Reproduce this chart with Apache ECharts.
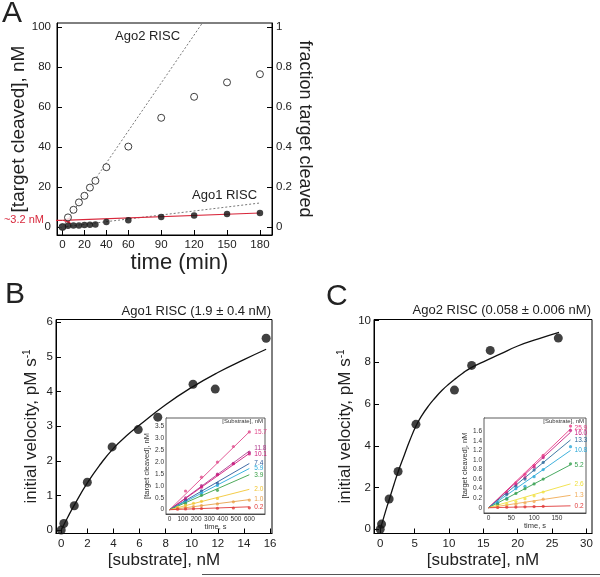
<!DOCTYPE html>
<html><head><meta charset="utf-8">
<script src="https://cdn.jsdelivr.net/npm/echarts@6/dist/echarts.min.js"></script>
<style>html,body{margin:0;padding:0;background:#fff}#c{width:600px;height:577px}</style>
</head><body><div id="c"></div>
<script>
// ---------- Panel A ----------
const aTime = [0, 5, 10, 15, 20, 25, 30, 40, 60, 90, 120, 150, 180];
const aAgo2 = [0, 4.8, 8.6, 12.3, 15.6, 19.7, 23.1, 29.9, 40.2, 54.6, 65.1, 72.3, 76.4];
const aAgo1 = [0, 0.6, 0.7, 0.8, 1.0, 1.1, 1.2, 2.5, 3.4, 5.0, 5.8, 6.5, 7.0];
const aAgo2Fit = [[0, 0], [127.5, 102]];
const aAgo1Fit = [[0, 0], [180, 12]];
const aRedFit = [[0, 3.3], [180, 7.0]];
const aRedMark = [[0, 3.3], [-16, 3.3]];
const aXTicks = [0, 20, 40, 60, 90, 120, 150, 180];
const aYTicks = [0, 20, 40, 60, 80, 100];
const aY2Ticks = [0, 0.2, 0.4, 0.6, 0.8, 1];

// ---------- Panel B ----------
const bSubstrate = [0, 0.2, 1, 2, 3.9, 5.9, 7.4, 10.1, 11.8, 15.7];
const bVelocity = [0, 0.19, 0.7, 1.38, 2.4, 2.9, 3.26, 4.21, 4.07, 5.54];
const bCurveX = [0, 0.5, 1, 2, 3, 4, 5, 6, 8, 10, 12, 14, 15.7];
const bCurveY = [0, 0.37, 0.72, 1.36, 1.9, 2.36, 2.72, 3.03, 3.62, 4.12, 4.55, 4.92, 5.22];
const bXTicks = [0, 2, 4, 6, 8, 10, 12, 14, 16];
const bYTicks = [0, 1, 2, 3, 4, 5, 6];

// inset B
const ibConc = ['15.7', '11.8', '10.1', '7.4', '5.9', '3.9', '2.0', '1.0', '0.2'];
const ibFitEnd = [3.25, 2.45, 2.35, 1.93, 1.72, 1.46, 0.85, 0.42, 0.12];
const ibPoints = [
  [[120, 0.78], [240, 1.36], [360, 1.99], [480, 2.64], [600, 3.25]],
  [[120, 0.49], [240, 1.01], [360, 1.49], [480, 1.94], [600, 2.4]],
  [[120, 0.43], [240, 0.94], [360, 1.46], [480, 1.92], [600, 2.33]],
  [[120, 0.38], [240, 0.79], [360, 1.1]],
  [[120, 0.32], [240, 0.69], [360, 1.01]],
  [[120, 0.26], [240, 0.6], [360, 0.81]],
  [[60, 0.1], [120, 0.18], [180, 0.27], [240, 0.35], [360, 0.47]],
  [[60, 0.05], [120, 0.09], [180, 0.13], [240, 0.17], [360, 0.24], [480, 0.33], [600, 0.4]],
  [[60, 0.02], [120, 0.03], [180, 0.04], [240, 0.05], [360, 0.06], [480, 0.07], [600, 0.08]]
];
const ibXTicks = [0, 100, 200, 300, 400, 500, 600];
const ibYTicks = [0, 0.5, 1, 1.5, 2, 2.5, 3, 3.5];

// ---------- Panel C ----------
const cSubstrate = [0, 0.2, 1.3, 2.6, 5.2, 10.8, 13.3, 16, 25.9];
const cVelocity = [0, 0.25, 1.45, 2.77, 5.03, 6.67, 7.85, 8.57, 9.16];
const cCurveX = [0, 0.5, 1, 1.5, 2, 2.6, 3.5, 4.3, 5.2, 6, 7, 8, 9, 10, 11, 12, 13, 15, 17.5, 20, 23, 26];
const cCurveY = [0, 0.55, 1.1, 1.62, 2.15, 2.75, 3.55, 4.25, 4.95, 5.42, 5.9, 6.3, 6.66, 6.96, 7.23, 7.48, 7.7, 8.02, 8.4, 8.78, 9.12, 9.43];
const cXTicks = [0, 5, 10, 15, 20, 25, 30];
const cYTicks = [0, 2, 4, 6, 8, 10];

// inset C
const icConc = ['25.9', '16.0', '13.3', '10.8', '5.2', '2.6', '1.3', '0.2'];
const icFitEnd = [1.65, 1.58, 1.42, 1.2, 0.9, 0.5, 0.26, 0.04];
const icPoints = [
  [[40, 0.33], [60, 0.52], [80, 0.7], [100, 0.89], [120, 1.1], [180, 1.71]],
  [[40, 0.3], [60, 0.48], [80, 0.63], [100, 0.85], [120, 1.05], [180, 1.62]],
  [[20, 0.1], [40, 0.28], [60, 0.45], [80, 0.6], [100, 0.79], [120, 0.95]],
  [[20, 0.1], [40, 0.2], [60, 0.4], [80, 0.45], [100, 0.65], [120, 0.8], [180, 1.28]],
  [[20, 0.07], [40, 0.18], [60, 0.3], [80, 0.4], [100, 0.5], [120, 0.6], [180, 0.92]],
  [[20, 0.03], [40, 0.08], [60, 0.13], [80, 0.19], [100, 0.25], [120, 0.33]],
  [[20, 0.02], [40, 0.04], [60, 0.07], [80, 0.1], [100, 0.13], [120, 0.18]],
  [[20, 0.005], [40, 0.01], [60, 0.015], [80, 0.02], [100, 0.025], [120, 0.03]]
];
const icXTicks = [0, 50, 100, 150];
const icYTicks = [0, 0.2, 0.4, 0.6, 0.8, 1, 1.2, 1.4, 1.6];

// ---------- styles ----------
const FONT = "'Liberation Sans', Arial, Helvetica, sans-serif";
const INK = '#222';
const RED = '#d8283c';
const ibColors = ['#e0488a', '#b03a8e', '#d0187c', '#2d5a9c', '#29a9dc', '#3aa048', '#f2c634', '#e8a04a', '#e03a3a'];
const ibLabelDy = [0, -3, 1, 0, 0, 0, 0, 0, 0];
const icColors = ['#e83a84', '#c81c80', '#2d6c9c', '#2aa8d8', '#36a050', '#f0e040', '#f0aa55', '#e03a3a'];
const icLabelDy = [-1, 1, 0, 0, 0, 0, 0, 0];

function fmtFrac(v) { return v === 0 ? '0' : (Number.isInteger(v) ? String(v) : v.toFixed(1)); }
function fmtDec(v) { return v === 0 ? '0' : v.toFixed(1); }
function fmtInt(v) { return String(v); }

function axis(kind, o) {
  const small = !!o.small;
  return {
    type: 'value', gridIndex: o.grid, min: o.min, max: o.max, position: o.position,
    axisLine: { show: true, onZero: false, lineStyle: { color: small ? '#333' : '#000', width: small ? 0.8 : 1 } },
    axisTick: { show: true, inside: true, length: small ? 2.5 : 5, customValues: o.ticks,
      lineStyle: { color: small ? '#333' : '#000', width: small ? 0.7 : 1 } },
    axisLabel: { customValues: o.ticks, formatter: o.fmt || fmtInt, fontFamily: FONT,
      fontSize: o.fs || (small ? 6.5 : 11.5), color: small ? '#333' : INK, margin: o.margin != null ? o.margin : (small ? 2 : 4) },
    splitLine: { show: false },
    name: o.name, nameLocation: 'middle', nameGap: o.nameGap, nameRotate: o.nameRotate,
    nameTextStyle: Object.assign({ fontFamily: FONT, fontSize: o.nfs || 17, color: small ? '#333' : INK }, o.nts || {})
  };
}

const series = [];
// Panel A
series.push({ type: 'line', xAxisIndex: 0, yAxisIndex: 0, data: aAgo2Fit, symbol: 'none', silent: true,
  lineStyle: { color: '#555', width: 0.8, type: [2, 2] }, z: 2 });
series.push({ type: 'line', xAxisIndex: 0, yAxisIndex: 0, data: aAgo1Fit, symbol: 'none', silent: true,
  lineStyle: { color: '#555', width: 0.8, type: [2, 2] }, z: 2 });
series.push({ type: 'line', xAxisIndex: 0, yAxisIndex: 0, data: aRedFit, symbol: 'none', silent: true,
  lineStyle: { color: RED, width: 1.2 }, z: 3 });
series.push({ type: 'line', xAxisIndex: 0, yAxisIndex: 0, clip: false, silent: true, showSymbol: true,
  symbol: 'arrow', symbolSize: [6, 9], symbolRotate: 90, itemStyle: { color: RED },
  lineStyle: { color: RED, width: 1.2 }, z: 3,
  data: [{ value: aRedMark[0] },
         { value: aRedMark[1], symbolSize: 0,
           label: { show: true, position: 'left', distance: 1, formatter: '~3.2 nM', color: RED, fontSize: 11, fontFamily: FONT } }] });
series.push({ type: 'scatter', xAxisIndex: 0, yAxisIndex: 0, data: aTime.map((t, i) => [t, aAgo2[i]]),
  symbol: 'circle', symbolSize: 7, itemStyle: { color: '#fff', borderColor: '#111', borderWidth: 1 }, z: 4 });
series.push({ type: 'scatter', xAxisIndex: 0, yAxisIndex: 0, data: aTime.map((t, i) => [t, aAgo1[i]]),
  symbol: 'circle', symbolSize: 6.5, itemStyle: { color: '#111' }, z: 5 });

// Panel B
series.push({ type: 'line', xAxisIndex: 1, yAxisIndex: 2, data: bCurveX.map((x, i) => [x, bCurveY[i]]),
  smooth: true, symbol: 'none', lineStyle: { color: '#111', width: 1.3 }, z: 2 });
series.push({ type: 'scatter', xAxisIndex: 1, yAxisIndex: 2, data: bSubstrate.map((x, i) => [x, bVelocity[i]]),
  symbolSize: 9, itemStyle: { color: '#111' }, z: 3 });
ibConc.forEach((c, k) => {
  series.push({ type: 'line', xAxisIndex: 2, yAxisIndex: 3, data: [[0, 0], [600, ibFitEnd[k]]], symbol: 'none',
    lineStyle: { color: ibColors[k], width: 0.9 }, z: 6,
    endLabel: { show: true, formatter: c, color: ibColors[k], fontSize: 6.5, fontFamily: FONT, distance: 5, offset: [0, ibLabelDy[k]] } });
  series.push({ type: 'scatter', xAxisIndex: 2, yAxisIndex: 3, data: ibPoints[k], symbolSize: 3.2,
    itemStyle: { color: ibColors[k] }, z: 7 });
});

// Panel C
series.push({ type: 'line', xAxisIndex: 3, yAxisIndex: 4, data: cCurveX.map((x, i) => [x, cCurveY[i]]),
  smooth: true, symbol: 'none', lineStyle: { color: '#111', width: 1.3 }, z: 2 });
series.push({ type: 'scatter', xAxisIndex: 3, yAxisIndex: 4, data: cSubstrate.map((x, i) => [x, cVelocity[i]]),
  symbolSize: 9, itemStyle: { color: '#111' }, z: 3 });
icConc.forEach((c, k) => {
  series.push({ type: 'line', xAxisIndex: 4, yAxisIndex: 5, data: [[0, 0], [180, icFitEnd[k]]], symbol: 'none',
    lineStyle: { color: icColors[k], width: 0.9 }, z: 6,
    endLabel: { show: true, formatter: c, color: icColors[k], fontSize: 6.5, fontFamily: FONT, distance: 4, offset: [0, icLabelDy[k]] } });
  series.push({ type: 'scatter', xAxisIndex: 4, yAxisIndex: 5, data: icPoints[k], symbolSize: 3.2,
    itemStyle: { color: icColors[k] }, z: 7 });
});

function txt(text, x, y, fs, align, color, extra) {
  return Object.assign({ type: 'text', x: x, y: y, silent: true, z: 50,
    style: { text: text, fontFamily: FONT, fontSize: fs, fill: color || INK, align: align || 'left', verticalAlign: 'middle' } }, extra || {});
}

const option = {
  animation: false,
  backgroundColor: '#fff',
  grid: [
    { left: 57, top: 23, width: 215, height: 212, show: true, borderColor: '#000', borderWidth: 1, backgroundColor: 'transparent', outerBoundsMode: 'none' },
    { left: 56, top: 319.5, width: 216, height: 214, show: true, borderColor: '#000', borderWidth: 1, backgroundColor: 'transparent', outerBoundsMode: 'none' },
    { left: 166, top: 418, width: 99, height: 96, show: true, borderColor: '#333', borderWidth: 0.8, backgroundColor: '#fff', z: 5, outerBoundsMode: 'none' },
    { left: 374, top: 319.5, width: 218, height: 214, show: true, borderColor: '#000', borderWidth: 1, backgroundColor: 'transparent', outerBoundsMode: 'none' },
    { left: 484, top: 418, width: 102, height: 95, show: true, borderColor: '#333', borderWidth: 0.8, backgroundColor: '#fff', z: 5, outerBoundsMode: 'none' }
  ],
  xAxis: [
    axis('x', { grid: 0, min: -5, max: 191, ticks: aXTicks, name: 'time (min)', nameGap: 14, nfs: 22, margin: 4,
      nts: { padding: [0, 0, 0, 30] } }),
    axis('x', { grid: 1, min: -0.4, max: 16.15, ticks: bXTicks, name: '[substrate], nM', nameGap: 18, nfs: 17, fs: 11.5 }),
    axis('x', { grid: 2, min: -27, max: 718, ticks: ibXTicks, small: true, name: 'time, s', nameGap: 8, nfs: 7.5, margin: 1.5 }),
    axis('x', { grid: 3, min: -0.9, max: 30.8, ticks: cXTicks, name: '[substrate], nM', nameGap: 18, nfs: 17, fs: 11.5 }),
    axis('x', { grid: 4, min: -10, max: 214, ticks: icXTicks, small: true, name: 'time, s', nameGap: 8, nfs: 7.5, margin: 1.5 })
  ],
  yAxis: [
    axis('y', { grid: 0, min: -4, max: 102, ticks: aYTicks, name: '[target cleaved], nM', nameGap: 20, nfs: 19, margin: 6 }),
    axis('y', { grid: 0, min: -0.04, max: 1.02, ticks: aY2Ticks, position: 'right', fmt: fmtFrac, name: 'fraction target cleaved',
      nameGap: 24, nameRotate: -90, nfs: 18, margin: 4 }),
    axis('y', { grid: 1, min: -0.1, max: 6.08, ticks: bYTicks, margin: 3, fs: 11.5,
      name: 'initial velocity, pM s{sup|-1}', nameGap: 16, nfs: 17,
      nts: { rich: { sup: { fontSize: 10, verticalAlign: 'top', fontFamily: FONT, color: INK, padding: [0, 0, 8, 0] } } } }),
    axis('y', { grid: 2, min: -0.18, max: 3.83, ticks: ibYTicks, small: true, fmt: fmtDec, name: '[target cleaved], nM', nameGap: 13, nfs: 7.5 }),
    axis('y', { grid: 3, min: -0.2, max: 10.05, ticks: cYTicks, margin: 3, fs: 11.5,
      name: 'initial velocity, pM s{sup|-1}', nameGap: 20, nfs: 17,
      nts: { rich: { sup: { fontSize: 10, verticalAlign: 'top', fontFamily: FONT, color: INK, padding: [0, 0, 8, 0] } } } }),
    axis('y', { grid: 4, min: -0.11, max: 1.88, ticks: icYTicks, small: true, fmt: fmtDec, name: '[target cleaved], nM', nameGap: 13, nfs: 7.5 })
  ],
  series: series,
  graphic: [
    txt('A', 2, 14, 30),
    txt('B', 5, 295, 30),
    txt('C', 326, 297, 30),
    txt('Ago2 RISC', 115, 36, 13),
    txt('Ago1 RISC', 192, 195, 13),
    txt('Ago1 RISC (1.9 \u00b1 0.4 nM)', 271, 311.5, 13, 'right'),
    txt('Ago2 RISC (0.058 \u00b1 0.006 nM)', 591, 310.5, 13, 'right'),
    txt('[Substrate], nM', 263, 421.5, 6, 'right', '#333'),
    txt('[Substrate], nM', 584, 421.5, 6, 'right', '#333'),
    { type: 'line', silent: true, z: 50, shape: { x1: 202, y1: 574.5, x2: 600, y2: 574.5 }, style: { stroke: '#555', lineWidth: 1 } }
  ]
};

const chart = echarts.init(document.getElementById('c'), null, { renderer: 'canvas' });
chart.setOption(option);
</script>
</body></html>
